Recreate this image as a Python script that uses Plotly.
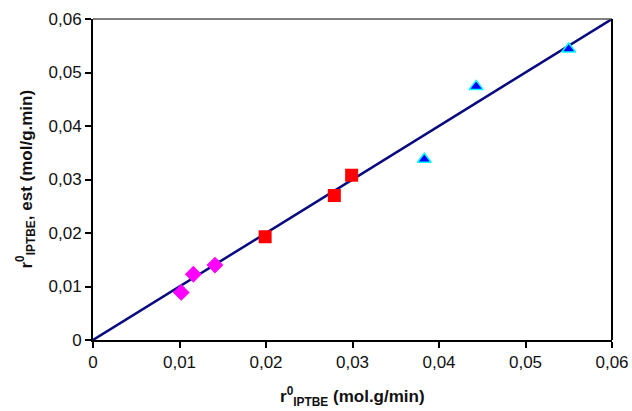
import plotly.graph_objects as go

# Measured initial rates (x) vs. model-estimated rates (y), mol/(g.min)
diamond_x = [0.0102, 0.0116, 0.0141]
diamond_y = [0.0089, 0.0123, 0.0140]

square_x = [0.0199, 0.0279, 0.0299]
square_y = [0.0193, 0.0270, 0.0308]

triangle_x = [0.0383, 0.0443, 0.0550]
triangle_y = [0.0338, 0.0474, 0.0544]

# Parity line y = x
parity = [0.0, 0.06]

tick_vals = [0, 0.01, 0.02, 0.03, 0.04, 0.05, 0.06]
tick_text = ["0", "0,01", "0,02", "0,03", "0,04", "0,05", "0,06"]

W, H = 632, 411
L, R, T, B = 93, 20, 19, 71
plot_w = W - L - R
plot_h = H - T - B

fig = go.Figure()

fig.add_trace(go.Scatter(
    x=parity, y=parity, mode="lines",
    line=dict(color="#0a0a80", width=2.5),
    showlegend=False, cliponaxis=False,
))
fig.add_trace(go.Scatter(
    x=diamond_x, y=diamond_y, mode="markers",
    marker=dict(symbol="diamond", size=13, color="#ff00ff", line=dict(width=0)),
    showlegend=False,
))
fig.add_trace(go.Scatter(
    x=square_x, y=square_y, mode="markers",
    marker=dict(symbol="square", size=13, color="#ff0000", line=dict(width=0)),
    showlegend=False,
))
fig.add_trace(go.Scatter(
    x=triangle_x, y=triangle_y, mode="markers",
    marker=dict(symbol="triangle-up", size=12, color="#0000ff",
                line=dict(color="#00ffff", width=1.5)),
    showlegend=False,
))

font_family = "Liberation Sans, Arial, sans-serif"

axis_style = dict(
    range=[0, 0.06], tickvals=tick_vals, ticktext=tick_text,
    showgrid=False, zeroline=False, automargin=False,
    showline=True, linecolor="black", linewidth=2,
    ticks="outside", ticklen=6, tickwidth=2, tickcolor="black",
    tickfont=dict(size=17, color="#111"),
)

fig.update_layout(
    width=W, height=H,
    margin=dict(l=L, r=R, t=T, b=B, autoexpand=False),
    paper_bgcolor="white", plot_bgcolor="white",
    font=dict(family=font_family, size=17, color="black"),
    xaxis=axis_style,
    yaxis=axis_style,
    shapes=[
        dict(type="line", xref="paper", yref="paper", x0=0, x1=1, y0=1, y1=1,
             line=dict(color="#555", width=1.5)),
        dict(type="line", xref="paper", yref="paper", x0=1, x1=1, y0=0, y1=1,
             line=dict(color="black", width=2)),
    ],
    annotations=[
        dict(text="<b>r<sup>0</sup><sub>IPTBE</sub> (mol.g/min)</b>",
             xref="paper", yref="paper", x=0.5, y=-56 / plot_h,
             xanchor="center", yanchor="middle", showarrow=False,
             font=dict(size=17, color="#111")),
        dict(text="<b>r<sup>0</sup><sub>IPTBE</sub>, est (mol/g.min)</b>",
             xref="paper", yref="paper", x=-67 / plot_w, y=0.5,
             xanchor="center", yanchor="middle", textangle=-90, showarrow=False,
             font=dict(size=17, color="#111")),
    ],
)

fig.write_html("out.html")
